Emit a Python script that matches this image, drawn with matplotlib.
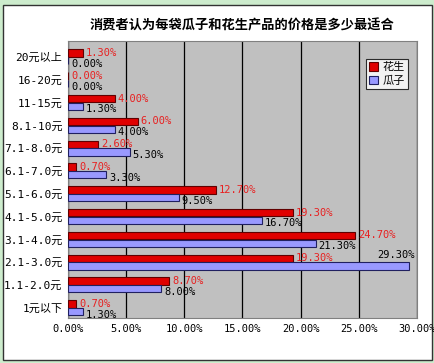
import matplotlib.pyplot as plt
import numpy as np
from matplotlib.patches import Rectangle

plt.rcParams['font.family'] = ['DejaVu Sans Mono', 'Noto Sans CJK SC']

# price ranges, top to bottom as shown
categories = ['20元以上', '16-20元', '11-15元', '8.1-10元', '7.1-8.0元', '6.1-7.0元',
              '5.1-6.0元', '4.1-5.0元', '3.1-4.0元', '2.1-3.0元', '1.1-2.0元', '1元以下']
peanut = [1.3, 0.0, 4.0, 6.0, 2.6, 0.7, 12.7, 19.3, 24.7, 19.3, 8.7, 0.7]   # 花生
melon = [0.0, 0.0, 1.3, 4.0, 5.3, 3.3, 9.5, 16.7, 21.3, 29.3, 8.0, 1.3]    # 瓜子
xticks = [0, 5, 10, 15, 20, 25, 30]

fig = plt.figure(figsize=(4.35, 3.63), dpi=100)
fig.patch.set_facecolor('#cdeccd')

# white chart panel with border
fig.patches.append(Rectangle((3 / 435, 3 / 363), 429 / 435, 355 / 363, transform=fig.transFigure,
                             facecolor='white', edgecolor='#333333', linewidth=1, zorder=-5))

ax = fig.add_axes([68 / 435, 45 / 363, 349 / 435, 277 / 363])
ax.set_zorder(2)
ax.set_facecolor('#c0c0c0')

n = len(categories)
y = np.arange(n)[::-1]
h = 0.32
ax.barh(y + 0.17, peanut, height=h, color='#e00000', edgecolor='#600000', linewidth=0.8, zorder=3, label='花生')
ax.barh(y - 0.17, melon, height=h, color='#9999ff', edgecolor='#202060', linewidth=0.8, zorder=3, label='瓜子')

for yi, v in zip(y, peanut):
    ax.text(v + 0.25, yi + 0.17, f'{v:.2f}%', color='#e82020', fontsize=7.5, va='center', ha='left', zorder=4)
for yi, v in zip(y, melon):
    if v > 27:
        ax.text(v + 0.5, yi + 0.33, f'{v:.2f}%', color='black', fontsize=7.5, va='center', ha='right',
                zorder=4, clip_on=False)
    else:
        ax.text(v + 0.25, yi - 0.3, f'{v:.2f}%', color='black', fontsize=7.5, va='center', ha='left', zorder=4)

ax.set_xlim(0, 30)
ax.set_ylim(-0.45, n - 1 + 0.7)
ax.set_xticks(xticks)
ax.set_xticklabels([f'{t:.2f}%' for t in xticks], fontsize=7.5)
ax.set_yticks(y)
ax.set_yticklabels(categories, fontsize=8)
ax.tick_params(axis='both', length=0, pad=4)
ax.xaxis.grid(True, color='black', linewidth=0.9, zorder=1)
ax.set_axisbelow(True)
for s in ax.spines.values():
    s.set_color('#808080')
    s.set_linewidth(0.8)

ax.set_title('消费者认为每袋瓜子和花生产品的价格是多少最适合', fontsize=9.5, fontweight='bold',
             family=['Noto Sans CJK SC'], pad=8)

leg = ax.legend(loc='upper right', bbox_to_anchor=(0.99, 0.955), fontsize=8, frameon=True,
                fancybox=False, edgecolor='black', handlelength=0.8, handleheight=0.8,
                handletextpad=0.4, borderpad=0.3, labelspacing=0.3)
leg.get_frame().set_linewidth(0.8)
for t in leg.get_texts():
    t.set_family(['Noto Sans CJK SC'])

fig.savefig('out.png', dpi=100, facecolor=fig.get_facecolor())
